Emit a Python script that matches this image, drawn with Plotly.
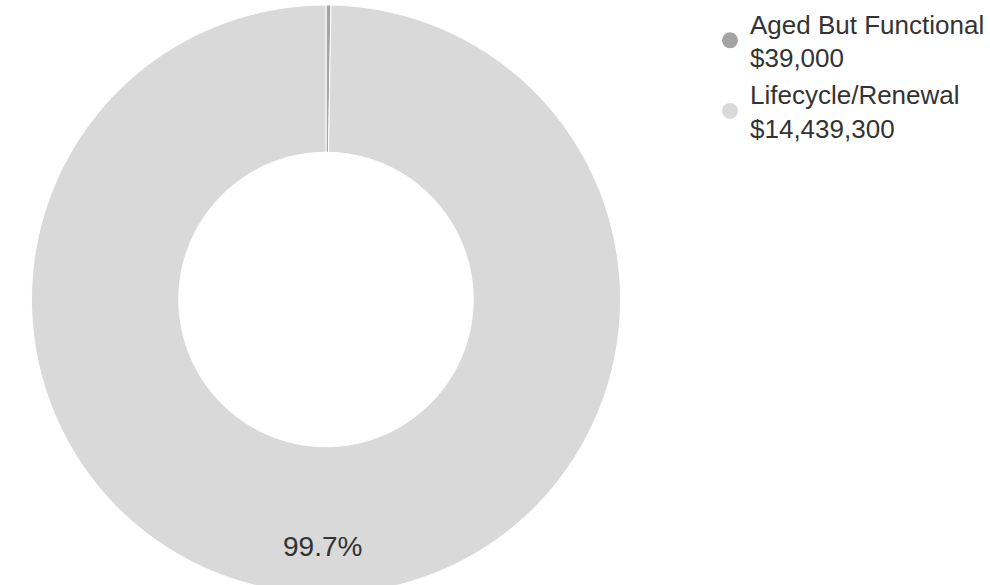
import plotly.graph_objects as go

categories = ["Aged But Functional", "Lifecycle/Renewal"]
values = [39000, 14439300]
value_labels = ["$39,000", "$14,439,300"]
colors = ["#a3a3a3", "#d9d9d9"]

W, H = 990, 600
cx, cy, r = 326, 298, 296
FONT = "Liberation Sans, Arial, sans-serif"

fig = go.Figure()
fig.add_trace(go.Pie(
    labels=categories,
    values=values,
    hole=0.5,
    sort=False,
    direction="clockwise",
    rotation=0,
    marker=dict(colors=colors, line=dict(color="white", width=1)),
    textinfo="none",
    showlegend=False,
    hoverinfo="label+value+percent",
    domain=dict(x=[(cx - r) / W, (cx + r) / W], y=[max(0, 1 - (cy + r) / H), min(1, 1 - (cy - r) / H)]),
))

for name, lab, col in zip(categories, value_labels, colors):
    fig.add_trace(go.Scatter(
        x=[None], y=[None], mode="markers",
        marker=dict(symbol="circle", size=22, color=col),
        name=f"{name}<br>{lab}",
        showlegend=True,
    ))

share = values[1] / sum(values)
fig.add_annotation(
    x=322 / W, y=1 - 546 / H, xref="paper", yref="paper",
    text=f"{share:.1%}", showarrow=False,
    font=dict(size=28, color="#333333", family=FONT),
    xanchor="center", yanchor="middle",
)

fig.update_layout(
    width=W, height=H,
    margin=dict(l=0, r=0, t=0, b=0),
    paper_bgcolor="white", plot_bgcolor="white",
    xaxis=dict(visible=False), yaxis=dict(visible=False),
    legend=dict(
        x=710 / W, y=1 + 3 / H, xanchor="left", yanchor="top",
        font=dict(size=26, color="#333333", family=FONT),
        itemsizing="trace", tracegroupgap=0,
    ),
    font=dict(family=FONT),
)

fig.write_html(
    "out.html",
    config={"displayModeBar": False},
    post_script="document.body.style.overflow='hidden';document.body.style.margin='0';",
)
